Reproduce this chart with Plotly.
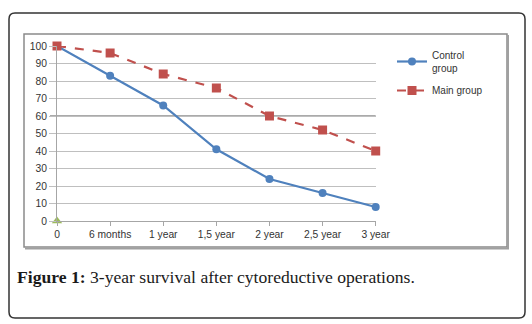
import plotly.graph_objects as go

categories = ["0", "6 months", "1 year", "1,5 year", "2 year", "2,5 year", "3 year"]
control_group = [100, 83, 66, 41, 24, 16, 8]
main_group = [100, 96, 84, 76, 60, 52, 40]
origin_point = [0]
y_ticks = [0, 10, 20, 30, 40, 50, 60, 70, 80, 90, 100]

W, H = 532, 324


def px(x):
    return x / W


def py(y):
    return 1 - y / H


x_idx = list(range(len(categories)))

fig = go.Figure()
fig.add_trace(go.Scatter(
    x=x_idx, y=control_group, name="Control<br>group", mode="lines+markers", legendgroup="a",
    line=dict(color="#4f81bd", width=2.2), marker=dict(symbol="circle", size=8, color="#4f81bd"),
    cliponaxis=False))
fig.add_trace(go.Scatter(
    x=x_idx, y=main_group, name="Main group", mode="lines+markers", legendgroup="b",
    line=dict(color="#c0504d", width=2.2, dash="dash"),
    marker=dict(symbol="square", size=9, color="#c0504d"), cliponaxis=False))
fig.add_trace(go.Scatter(
    x=[0], y=origin_point, mode="markers", showlegend=False,
    marker=dict(symbol="triangle-up", size=9, color="#9bbb59"), cliponaxis=False))

# rounded outer frame
x0, x1, y0, y1, r = 9, 525, 13, 318, 6
path = (f"M {px(x0+r)},{py(y0)} L {px(x1-r)},{py(y0)} Q {px(x1)},{py(y0)} {px(x1)},{py(y0+r)} "
        f"L {px(x1)},{py(y1-r)} Q {px(x1)},{py(y1)} {px(x1-r)},{py(y1)} "
        f"L {px(x0+r)},{py(y1)} Q {px(x0)},{py(y1)} {px(x0)},{py(y1-r)} "
        f"L {px(x0)},{py(y0+r)} Q {px(x0)},{py(y0)} {px(x0+r)},{py(y0)} Z")
shapes = [
    dict(type="path", xref="paper", yref="paper", path=path,
         line=dict(color="#333333", width=1.5), layer="below"),
    dict(type="rect", xref="paper", yref="paper", x0=px(24), x1=px(507), y0=py(247), y1=py(34),
         line=dict(color="#8a8a8a", width=1.5), layer="below"),
    dict(type="line", xref="paper", yref="paper", x0=px(508), x1=px(508), y0=py(249), y1=py(35),
         line=dict(color="#a0a0a0", width=2)),
    dict(type="line", xref="paper", yref="paper", x0=px(25), x1=px(509), y0=py(248.5), y1=py(248.5),
         line=dict(color="#a0a0a0", width=2)),
    dict(type="line", xref="paper", yref="y", x0=px(50), x1=px(375.7), y0=60, y1=60,
         line=dict(color="#555555", width=1), layer="below"),
]

fig.update_layout(
    width=W, height=H, margin=dict(l=0, r=0, t=0, b=0, pad=0, autoexpand=False),
    paper_bgcolor="white", plot_bgcolor="white",
    font=dict(family="Liberation Sans", size=10.3, color="#333333"),
    shapes=shapes,
    xaxis=dict(domain=[px(57), px(375.7)], range=[0, 6], tickmode="array", tickvals=x_idx,
               ticktext=categories, showgrid=False, zeroline=False, showline=True,
               linecolor="#a6a6a6", linewidth=1, ticks="outside", ticklen=4, tickcolor="#a6a6a6",
               automargin=False),
    yaxis=dict(domain=[py(221), py(46)], range=[0, 100], tickvals=y_ticks, showgrid=True,
               gridcolor="#bfbfbf", gridwidth=1, zeroline=False, showline=True,
               linecolor="#a6a6a6", ticks="outside", ticklen=7, tickcolor="#bfbfbf",
               automargin=False),
    legend=dict(x=px(392), y=py(42), xanchor="left", yanchor="top", bgcolor="rgba(0,0,0,0)",
                font=dict(family="Liberation Sans", size=10, color="#333333"), tracegroupgap=5,
                traceorder="grouped", itemwidth=30),
    annotations=[dict(
        xref="paper", yref="paper", x=px(15), y=py(277), xanchor="left", yanchor="middle",
        showarrow=False, text="<b>Figure 1:</b> 3-year survival after cytoreductive operations.",
        font=dict(family="Liberation Serif", size=17.6, color="#1a1a1a"))],
)

fig.write_html("out.html", config={"displayModeBar": False},
               post_script="document.body.style.margin='0';document.body.style.overflow='hidden';")
